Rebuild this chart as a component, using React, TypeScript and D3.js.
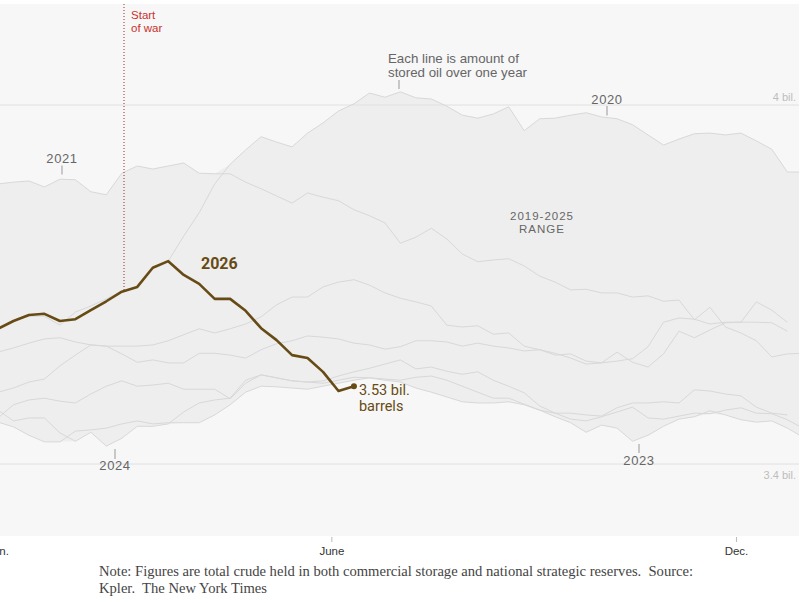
import React from "react";
import * as d3 from "d3";

// Weekly crude stocks, millions of barrels (week i = Jan 1 + 7*i days)
const stocks2019 = [3587,3594,3602,3609,3611,3604,3599,3597,3597,3597,3599,3606,3616,3626,3619,3626,3634,3646,3666,3679,3679,3696,3704,3708,3699,3686,3677,3671,3664,3632,3629,3631,3617,3619,3597,3591,3585,3577,3567,3569,3587,3570,3562,3584,3622,3611,3624,3636,3637,3637,3636,3622];
const stocks2020 = [3626,3639,3647,3647,3632,3654,3664,3676,3689,3696,3728,3739,3781,3820,3868,3901,3925,3947,3938,3930,3953,3970,3990,4002,4020,4013,4022,4012,4010,3998,3983,3978,3985,3997,3957,3977,3978,3983,3987,3980,3977,3967,3950,3933,3943,3952,3953,3950,3953,3940,3926,3888,3888];
const stocks2021 = [3868,3871,3873,3863,3876,3875,3855,3850,3886,3898,3893,3898,3903,3886,3885,3885,3871,3860,3848,3836,3853,3846,3840,3825,3815,3803,3769,3779,3794,3776,3751,3738,3741,3743,3731,3714,3704,3691,3692,3686,3686,3679,3681,3672,3674,3641,3662,3629,3619,3606,3579,3584,3585];
const stocks2022 = [3520,3527,3537,3542,3564,3582,3599,3597,3584,3570,3574,3569,3569,3585,3585,3582,3577,3591,3601,3606,3614,3612,3609,3602,3599,3592,3596,3606,3606,3604,3597,3602,3597,3594,3589,3591,3582,3584,3572,3569,3572,3576,3596,3637,3644,3642,3634,3637,3637,3671,3657,3637];
const stocks2023 = [3470,3462,3448,3437,3437,3455,3457,3460,3467,3472,3467,3469,3469,3469,3482,3499,3520,3530,3529,3527,3525,3530,3535,3540,3544,3542,3540,3545,3547,3540,3530,3520,3510,3510,3500,3490,3479,3469,3453,3465,3460,3438,3448,3463,3475,3479,3489,3482,3474,3470,3472,3460,3445];
const stocks2024 = [3490,3472,3477,3477,3452,3438,3453,3430,3443,3463,3463,3467,3487,3502,3507,3510,3540,3549,3544,3539,3537,3535,3540,3545,3544,3540,3537,3527,3520,3512,3504,3502,3502,3504,3499,3490,3485,3475,3472,3479,3487,3495,3477,3475,3480,3485,3484,3490,3494,3485,3484,3474,3460];
const stocks2025 = [3477,3499,3507,3510,3505,3502,3517,3530,3539,3530,3532,3535,3525,3525,3525,3509,3535,3549,3544,3539,3537,3539,3547,3554,3560,3567,3574,3559,3562,3555,3550,3554,3540,3530,3519,3497,3485,3485,3482,3480,3494,3502,3502,3504,3502,3524,3522,3517,3514,3495,3485,3482];
const stocks2026 = [3626,3639,3649,3651,3639,3642,3657,3672,3688,3696,3728,3739,3716,3701,3676,3676,3656,3627,3607,3582,3577,3554,3522,3530];

const pastYears = [
  { year: 2019, values: stocks2019 },
  { year: 2020, values: stocks2020 },
  { year: 2021, values: stocks2021 },
  { year: 2022, values: stocks2022 },
  { year: 2023, values: stocks2023 },
  { year: 2024, values: stocks2024 },
  { year: 2025, values: stocks2025 },
];

const monthTicks = [
  { day: 0, label: "Jan." },
  { day: 151, label: "June" },
  { day: 334, label: "Dec." },
];
const gridLines = [
  { value: 4000, label: "4 bil.", above: true },
  { value: 3400, label: "3.4 bil.", above: false },
];
const warStartDay = 57;
const latestLabel = ["3.53 bil.", "barrels"];
const noteLines = [
  "Note: Figures are total crude held in both commercial storage and national strategic reserves.  Source:",
  "Kpler.  The New York Times",
];

const W = 804;
const H = 603;
const PLOT = { left: 0, top: 4, right: 799, bottom: 536 };
const SANS = "'Liberation Sans', Arial, sans-serif";
const BROWN = "#674b14";

export default function App() {
  const x = d3.scaleLinear().domain([0, 365]).range([-2, 805]);
  const y = d3.scaleLinear().domain([3400, 4000]).range([464, 105]);
  const dayOf = (i: number) => i * 7;

  const line = d3
    .line<number>()
    .x((_, i) => x(dayOf(i)))
    .y((d) => y(d));

  const maxLen = d3.max(pastYears, (s) => s.values.length) as number;
  const band = d3.range(maxLen).map((i) => {
    const vals = pastYears.map((s) => s.values[i]).filter((v) => v != null);
    return { i, lo: d3.min(vals) as number, hi: d3.max(vals) as number };
  });
  const area = d3
    .area<{ i: number; lo: number; hi: number }>()
    .x((d) => x(dayOf(d.i)))
    .y0((d) => y(d.lo))
    .y1((d) => y(d.hi));

  const last = stocks2026.length - 1;
  const lastX = x(dayOf(last));
  const lastY = y(stocks2026[last]);
  const wi = Math.floor(warStartDay / 7);
  const wf = warStartDay / 7 - wi;
  const warVal = stocks2026[wi] + (stocks2026[wi + 1] - stocks2026[wi]) * wf;
  const warX = x(warStartDay);
  const warY = y(warVal);

  const tickCol = "#bbbbbb";
  const labelCol = "#666666";

  return (
    <svg
      width={W}
      height={H}
      style={{ position: "absolute", left: 0, top: 0, background: "#fff" }}
    >
      <defs>
        <clipPath id="plotclip">
          <rect
            x={PLOT.left}
            y={PLOT.top}
            width={PLOT.right - PLOT.left}
            height={PLOT.bottom - PLOT.top}
          />
        </clipPath>
      </defs>
      <rect
        x={PLOT.left}
        y={PLOT.top}
        width={PLOT.right - PLOT.left}
        height={PLOT.bottom - PLOT.top}
        fill="#f7f7f7"
      />
      <g clipPath="url(#plotclip)">
        <path d={area(band) || ""} fill="#eeeeee" />
        {gridLines.map((g) => (
          <line
            key={g.label}
            x1={PLOT.left}
            x2={PLOT.right}
            y1={y(g.value)}
            y2={y(g.value)}
            stroke="#e0e0e0"
            strokeWidth={1}
          />
        ))}
        {pastYears.map((s) => (
          <path
            key={s.year}
            d={line(s.values) || ""}
            fill="none"
            stroke="#d8d8d8"
            strokeWidth={1}
          />
        ))}
        <line
          x1={warX}
          x2={warX}
          y1={PLOT.top}
          y2={warY}
          stroke="#9b2b2b"
          strokeWidth={1}
          strokeDasharray="1,2"
        />
        <path
          d={line(stocks2026) || ""}
          fill="none"
          stroke={BROWN}
          strokeWidth={2.6}
          strokeLinejoin="round"
        />
        <circle cx={lastX} cy={lastY} r={3} fill={BROWN} />
      </g>

      {gridLines.map((g) => (
        <text
          key={g.label}
          x={796}
          y={g.above ? y(g.value) - 4 : y(g.value) + 15}
          textAnchor="end"
          fontFamily={SANS}
          fontSize={11}
          fill="#bdbdbd"
        >
          {g.label}
        </text>
      ))}

      {/* Start of war */}
      <text fontFamily={SANS} fontSize={11.5} fill="#c8322d">
        <tspan x={warX + 7} y={19}>Start</tspan>
        <tspan x={warX + 7} y={31.5}>of war</tspan>
      </text>

      {/* Explanation */}
      <text fontFamily={SANS} fontSize={13.3} fill={labelCol}>
        <tspan x={388} y={63}>Each line is amount of</tspan>
        <tspan x={388} y={76.5}>stored oil over one year</tspan>
      </text>
      <line x1={399} x2={399} y1={80} y2={89} stroke={tickCol} strokeWidth={1.6} />

      {/* Year labels */}
      <text x={607} y={104} textAnchor="middle" fontFamily={SANS} fontSize={13} letterSpacing={0.6} fill={labelCol}>2020</text>
      <line x1={607} x2={607} y1={106} y2={115.5} stroke={tickCol} strokeWidth={1.6} />
      <text x={62} y={163} textAnchor="middle" fontFamily={SANS} fontSize={13} letterSpacing={0.6} fill={labelCol}>2021</text>
      <line x1={62} x2={62} y1={165.5} y2={174.5} stroke={tickCol} strokeWidth={1.6} />
      <text x={115} y={470} textAnchor="middle" fontFamily={SANS} fontSize={13} letterSpacing={0.6} fill={labelCol}>2024</text>
      <line x1={115} x2={115} y1={449} y2={459} stroke={tickCol} strokeWidth={1.6} />
      <text x={639} y={465} textAnchor="middle" fontFamily={SANS} fontSize={13} letterSpacing={0.6} fill={labelCol}>2023</text>
      <line x1={639} x2={639} y1={444} y2={453} stroke={tickCol} strokeWidth={1.6} />

      <text textAnchor="middle" fontFamily={SANS} fontSize={11.5} letterSpacing={1} fill={labelCol}>
        <tspan x={542} y={220}>2019-2025</tspan>
        <tspan x={542} y={232.5}>RANGE</tspan>
      </text>

      {/* 2026 labels */}
      <text x={201} y={269} fontFamily="Roboto, sans-serif" fontWeight={700} fontSize={16} fill={BROWN}>2026</text>
      <text fontFamily="Roboto, sans-serif" fontSize={14.5} fill={BROWN}>
        <tspan x={lastX + 5} y={395}>{latestLabel[0]}</tspan>
        <tspan x={lastX + 5} y={410.5}>{latestLabel[1]}</tspan>
      </text>

      {/* x axis */}
      {monthTicks.map((t) => (
        <g key={t.label}>
          <line x1={x(t.day)} x2={x(t.day)} y1={537} y2={542} stroke={tickCol} strokeWidth={1} />
          <text x={x(t.day)} y={555} textAnchor="middle" fontFamily={SANS} fontSize={11.5} fill="#333">
            {t.label}
          </text>
        </g>
      ))}

      {/* Note */}
      <text fontFamily="'Liberation Serif', 'Times New Roman', serif" fontSize={14.6} fill="#444" style={{ whiteSpace: "pre" }}>
        <tspan x={99} y={576}>{noteLines[0]}</tspan>
        <tspan x={99} y={593}>{noteLines[1]}</tspan>
      </text>
    </svg>
  );
}
